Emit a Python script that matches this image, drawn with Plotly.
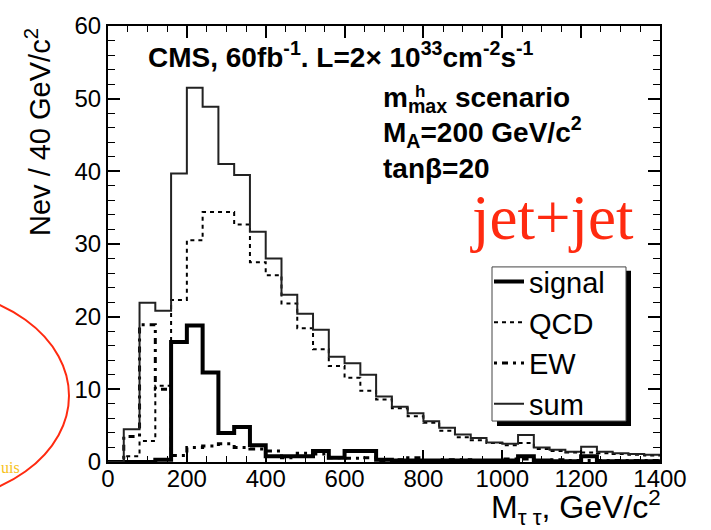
import plotly.graph_objects as go

# ---------------- data ----------------
bin_edges = [i * 40 for i in range(36)]  # 0 .. 1400 GeV, 40 GeV bins

signal = [0, 0, 0, 0.3, 16.5, 18.8, 12.3, 4.0, 4.8, 2.3, 0.8, 0.8, 0.8, 1.5, 0.6,
          1.5, 1.5, 0.3, 0.2, 0.2, 0.2, 0.2, 0.2, 0.2, 0.2, 0.2, 0.8, 0.2, 0.1,
          0.1, 0.8, 0.1, 0.1, 0.1, 0.1]

qcd = [0, 0.8, 2.9, 10.5, 22.3, 30.5, 34.4, 34.4, 32.7, 27.5, 25.7, 21.8, 18.4,
       15.5, 13.2, 11.6, 9.8, 8.6, 7.4, 6.3, 5.4, 4.3, 3.4, 3.0, 2.6, 2.3, 2.6,
       1.8, 1.5, 1.3, 1.3, 1.2, 1.1, 1.0, 0.9]

ew = [0, 3.5, 18.9, 10.0, 0.9, 2.0, 2.2, 2.5, 2.0, 1.8, 1.5, 0.6, 1.2, 1.1, 0.6,
      0.5, 0.6, 0.2, 0.3, 0.6, 0.2, 0.3, 0.3, 0.2, 0.2, 0.4, 0.4, 0.2, 0.3, 0.2,
      0.2, 0.2, 0.2, 0.2, 0.2]

total = [0, 4.5, 21.9, 20.8, 39.7, 51.5, 48.9, 41.0, 39.5, 31.7, 28.0, 23.0, 20.4,
         18.2, 14.5, 13.6, 12.0, 9.0, 7.6, 6.7, 5.6, 4.7, 3.8, 3.3, 2.7, 2.5, 3.7,
         2.0, 1.7, 1.4, 2.1, 1.4, 1.2, 1.1, 1.0]

x_ticks = [0, 200, 400, 600, 800, 1000, 1200, 1400]
y_ticks = [0, 10, 20, 30, 40, 50, 60]

# ---------------- layout helpers ----------------
W, H = 711, 530
L, R, T, B = 108, 660, 15, 462  # plot frame in pixels


def px(x):
    return (x - L) / (R - L)


def py(y):
    return (B - y) / (B - T)


def step(vals):
    return bin_edges[:-1] + [bin_edges[-1]], list(vals) + [vals[-1]]


FONT = "Liberation Sans, Arial, Helvetica, sans-serif"

fig = go.Figure()

xs, ys = step(signal)
fig.add_trace(go.Scatter(x=xs, y=ys, mode="lines", line_shape="hv", name="signal",
                         line=dict(color="black", width=4)))
xs, ys = step(qcd)
fig.add_trace(go.Scatter(x=xs, y=ys, mode="lines", line_shape="hv", name="QCD",
                         line=dict(color="black", width=2, dash="4px,4px")))
xs, ys = step(ew)
fig.add_trace(go.Scatter(x=xs, y=ys, mode="lines", line_shape="hv", name="EW",
                         line=dict(color="black", width=3, dash="3px,5px,6px,5px")))
xs, ys = step(total)
fig.add_trace(go.Scatter(x=xs, y=ys, mode="lines", line_shape="hv", name="sum",
                         line=dict(color="#222222", width=2)))

axis_common = dict(
    showgrid=False, zeroline=False, showline=True, linecolor="black", linewidth=2,
    mirror="allticks", ticks="inside", tickcolor="black", tickwidth=1.5,
    tickfont=dict(family=FONT, size=24, color="black"),
)

fig.update_xaxes(range=[0, 1400], tickvals=x_ticks, ticklen=12, ticklabelstandoff=-6,
                 minor=dict(ticks="inside", ticklen=6, dtick=50, tickcolor="black", tickwidth=1),
                 **axis_common)
fig.update_yaxes(range=[0, 60], tickvals=y_ticks, ticklen=12,
                 minor=dict(ticks="inside", ticklen=7, dtick=2, tickcolor="black", tickwidth=1),
                 **axis_common)

ann = []
# axis titles
ann.append(dict(text="Nev / 40 GeV/c<sup>2</sup>", xref="paper", yref="paper",
                x=px(38), y=py(15), xanchor="center", yanchor="top", textangle=-90,
                showarrow=False, font=dict(family=FONT, size=29, color="black")))
ann.append(dict(text="M<sub>τ τ</sub>, GeV/c<sup>2</sup>", xref="paper", yref="paper",
                x=px(663), y=py(509), xanchor="right", yanchor="middle",
                showarrow=False, font=dict(family=FONT, size=32, color="black")))
# info texts
BF = dict(family=FONT, size=28, color="black")
ann.append(dict(text="<b>CMS, 60fb<sup>-1</sup>. L=2× 10<sup>33</sup>cm<sup>-2</sup>s<sup>-1</sup></b>",
                xref="paper", yref="paper", x=px(146), y=py(45), xanchor="left",
                yanchor="middle", showarrow=False, font=BF))
ann.append(dict(text="<b>m<sub>max</sub> scenario</b>", xref="paper", yref="paper",
                x=px(381), y=py(90), xanchor="left", yanchor="middle", showarrow=False, font=BF))
ann.append(dict(text="<b>h</b>", xref="paper", yref="paper",
                x=px(413), y=py(82), xanchor="left", yanchor="middle", showarrow=False,
                font=dict(family=FONT, size=17, color="black")))
ann.append(dict(text="<b>M<sub>A</sub>=200 GeV/c<sup>2</sup></b>", xref="paper", yref="paper",
                x=px(381), y=py(124), xanchor="left", yanchor="middle", showarrow=False, font=BF))
ann.append(dict(text="<b>tanβ=20</b>", xref="paper", yref="paper",
                x=px(381), y=py(161), xanchor="left", yanchor="middle", showarrow=False, font=BF))
ann.append(dict(text="jet+jet", xref="paper", yref="paper",
                x=px(552), y=py(212), xanchor="center", yanchor="middle", showarrow=False,
                font=dict(family="Liberation Serif, Times New Roman, serif", size=63, color="#ff2a10")))
ann.append(dict(text="uis", xref="paper", yref="paper",
                x=px(22), y=py(468), xanchor="right", yanchor="middle", showarrow=False,
                font=dict(family="Liberation Serif, serif", size=16, color="#f7c21b")))

shapes = [
    # red ellipse at left edge
    dict(type="circle", xref="paper", yref="paper",
         x0=px(-229), x1=px(69), y0=py(284), y1=py(504),
         line=dict(color="#ff2a10", width=2), fillcolor="rgba(0,0,0,0)", layer="above"),
    # legend shadow
    dict(type="rect", xref="paper", yref="paper", x0=px(497), x1=px(631), y0=py(266), y1=py(425),
         fillcolor="black", line=dict(width=0), layer="above"),
    # legend box
    dict(type="rect", xref="paper", yref="paper", x0=px(492), x1=px(626), y0=py(262), y1=py(420),
         fillcolor="white", line=dict(color="#444444", width=1), layer="above"),
]

fig.update_layout(
    width=W, height=H,
    margin=dict(l=L, r=W - R, t=T, b=H - B),
    paper_bgcolor="white", plot_bgcolor="white",
    showlegend=True,
    legend=dict(x=px(489), y=py(251), xanchor="left", yanchor="top",
                bgcolor="rgba(0,0,0,0)", borderwidth=0,
                font=dict(family=FONT, size=29, color="black"),
                tracegroupgap=0, itemwidth=30),
    annotations=ann, shapes=shapes,
)

fig.write_html("out.html")
